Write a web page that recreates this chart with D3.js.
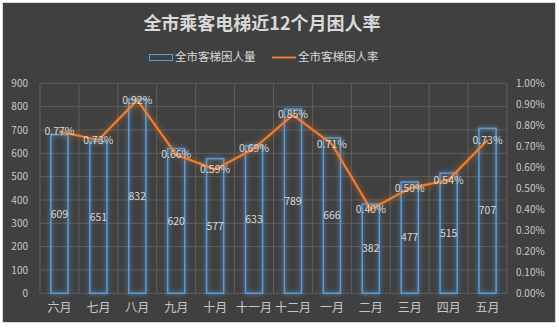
<!DOCTYPE html>
<html><head><meta charset="utf-8">
<script src="https://cdn.jsdelivr.net/npm/d3@7"></script>
<style>body{margin:0;background:#fff;}svg{display:block;}</style>
</head><body>
<script>
const months = ["六月","七月","八月","九月","十月","十一月","十二月","一月","二月","三月","四月","五月"];
const trappedCounts = [680,651,832,620,577,633,789,666,382,477,515,707];
const countLabels = ["609","651","832","620","577","633","789","666","382","477","515","707"];
const trappedRates = [0.0077,0.0073,0.0092,0.0066,0.0059,0.0069,0.0085,0.0071,0.0040,0.0050,0.0054,0.0073];
const leftTicks = [0,100,200,300,400,500,600,700,800,900];
const rightTicks = [0,0.001,0.002,0.003,0.004,0.005,0.006,0.007,0.008,0.009,0.010];
const title = "全市乘客电梯近12个月困人率";
const seriesNames = ["全市客梯困人量","全市客梯困人率"];

const W=559,H=328;
const svg=d3.select("body").append("svg").attr("width",W).attr("height",H);
const defs=svg.append("defs");
function glow(id,color,sd,op){
  const f=defs.append("filter").attr("id",id).attr("x","-50%").attr("y","-50%").attr("width","200%").attr("height","200%");
  f.append("feGaussianBlur").attr("in","SourceAlpha").attr("stdDeviation",sd).attr("result","b");
  f.append("feFlood").attr("flood-color",color).attr("flood-opacity",op);
  f.append("feComposite").attr("in2","b").attr("operator","in").attr("result","g");
  const m=f.append("feMerge");m.append("feMergeNode").attr("in","g");m.append("feMergeNode").attr("in","g");m.append("feMergeNode").attr("in","SourceGraphic");
}
glow("gb","#5b9bd5",2.4,0.55);
glow("go","#ed7d31",3.5,0.35);

svg.append("rect").attr("x",2.5).attr("y",2.5).attr("width",553).attr("height",320).attr("fill","#404040").attr("stroke","#d9d9d9");

const L=40,R=507,T=83.3,B=293.3;
const x=d3.scaleBand().domain(months).range([L,R]).padding(0);
const yL=d3.scaleLinear().domain([0,900]).range([B,T]);
const yR=d3.scaleLinear().domain([0,0.01]).range([B,T]);
const font="'Noto Sans CJK SC','Microsoft YaHei',sans-serif";
const grid="#5e5e5e";

// grid
svg.append("g").selectAll("line").data(leftTicks).join("line")
 .attr("x1",L).attr("x2",R).attr("y1",d=>yL(d)).attr("y2",d=>yL(d)).attr("stroke",grid).attr("stroke-width",1);
const bounds=months.map(m=>x(m)).concat([R]);
svg.append("g").selectAll("line").data(bounds).join("line")
 .attr("x1",d=>d).attr("x2",d=>d).attr("y1",T).attr("y2",B).attr("stroke",grid).attr("stroke-width",1);

// axes
const axL=svg.append("g").attr("transform",`translate(${L-12},0)`).call(d3.axisLeft(yL).tickValues(leftTicks).tickSize(0).tickPadding(0));
const axR=svg.append("g").attr("transform",`translate(${R+9},0)`).call(d3.axisRight(yR).tickValues(rightTicks).tickSize(0).tickPadding(0).tickFormat(d3.format(".2%")));
const axB=svg.append("g").attr("transform",`translate(0,${B+8})`).call(d3.axisBottom(x).tickSize(0).tickPadding(0));
[axL,axR,axB].forEach(a=>{a.select(".domain").remove();a.selectAll("text").attr("fill","#c8c8c8").style("font-family",font).style("font-size","10px");});
axB.selectAll("text").style("font-size","12px").attr("dy","0.9em");

// bars
const bw=x.bandwidth()*0.44;
svg.append("g").attr("filter","url(#gb)").selectAll("rect").data(months).join("rect")
 .attr("x",(d)=>x(d)+x.bandwidth()/2-bw/2).attr("width",bw)
 .attr("y",(d,i)=>yL(trappedCounts[i])).attr("height",(d,i)=>B-yL(trappedCounts[i]))
 .attr("fill","none").attr("stroke","#5b9bd5").attr("stroke-width",1.5);
svg.append("g").selectAll("text").data(months).join("text")
 .attr("x",d=>x(d)+x.bandwidth()/2).attr("y",(d,i)=>(yL(trappedCounts[i])+B)/2).attr("dy","0.35em")
 .attr("text-anchor","middle").attr("fill","#d9d9d9").style("font-family",font).style("font-size","10.5px")
 .text((d,i)=>countLabels[i]);

// line
const line=d3.line().x((d,i)=>x(months[i])+x.bandwidth()/2).y(d=>yR(d));
svg.append("path").datum(trappedRates).attr("d",line).attr("fill","none").attr("stroke","#ed7d31").attr("stroke-width",2.25).attr("stroke-linejoin","round").attr("filter","url(#go)");
svg.append("g").selectAll("text").data(trappedRates).join("text")
 .attr("x",(d,i)=>x(months[i])+x.bandwidth()/2).attr("y",d=>yR(d)).attr("dy","0.35em")
 .attr("text-anchor","middle").attr("fill","#d9d9d9").style("font-family",font).style("font-size","10.5px")
 .text(d=>d3.format(".2%")(d));

// title
svg.append("text").attr("x",262).attr("y",24).attr("dy","0.35em").attr("text-anchor","middle")
 .attr("fill","#d9d9d9").style("font-family",font).style("font-size","18px").style("font-weight","bold").text(title);

// legend
const lg=svg.append("g");
lg.append("rect").attr("x",149.5).attr("y",54.5).attr("width",23).attr("height",6).attr("fill","none").attr("stroke","#5b9bd5").attr("stroke-width",1);
lg.append("text").attr("x",175).attr("y",57).attr("dy","0.35em").attr("fill","#d9d9d9").style("font-family",font).style("font-size","11.5px").text(seriesNames[0]);
lg.append("line").attr("x1",272).attr("x2",296).attr("y1",57.5).attr("y2",57.5).attr("stroke","#ed7d31").attr("stroke-width",2);
lg.append("text").attr("x",298).attr("y",57).attr("dy","0.35em").attr("fill","#d9d9d9").style("font-family",font).style("font-size","11.5px").text(seriesNames[1]);
</script>
</body></html>
